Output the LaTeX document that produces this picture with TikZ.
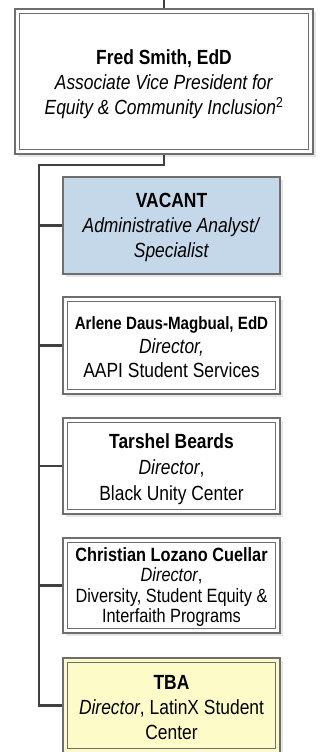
\documentclass[tikz,border=0pt]{standalone}
\usepackage{fontspec}
\setmainfont{Liberation Sans}[FakeStretch=0.85]
\usetikzlibrary{shadows}
\definecolor{linec}{HTML}{404040}
\definecolor{boxline}{HTML}{6E6E6E}
\definecolor{vacfill}{HTML}{C5D8E9}
\definecolor{tbafill}{HTML}{FDFBC8}
\definecolor{shad}{HTML}{E6E6E6}
\tikzset{
  box/.style={draw=boxline, line width=1.2pt, fill=white, inner sep=0pt,
    drop shadow={shadow xshift=3pt, shadow yshift=-3pt, fill=shad, opacity=1}},
  txt/.style={align=center, inner sep=0pt, font=\fontsize{20.5}{25}\selectfont},
  conn/.style={draw=linec, line width=2.6pt},
  innerbox/.style={draw=boxline, line width=1.2pt}
}
\newcommand{\innerframe}[1]{\draw[innerbox] ([xshift=5pt,yshift=-5pt]#1.north west) rectangle ([xshift=-5pt,yshift=5pt]#1.south east);}
\begin{document}
\begin{tikzpicture}[x=1pt,y=-1pt]
\useasboundingbox (0,0) rectangle (323,752);
\node[box, minimum width=298pt, minimum height=145pt] (top) at (164,81.5) {};
\innerframe{top}
\node[txt] (topt) at ([yshift=-3pt]top.center)
  {\textbf{Fred Smith, EdD}\\ \textit{Associate Vice President for}\\ \textit{Equity \& Community Inclusion}\textsuperscript{2}};
\node[box, fill=vacfill, minimum width=217pt, minimum height=97pt] (vac) at (171.5,225.5) {};
\node[txt] (vact) at ([yshift=-2pt]vac.center)
  {\textbf{VACANT}\\ \textit{Administrative Analyst/}\\ \textit{Specialist}};
\node[box, minimum width=217pt, minimum height=97pt] (arl) at (171.5,345.5) {};
\innerframe{arl}
\node[txt, font=\fontsize{20.5}{24}\selectfont] (arlt) at ([yshift=-1.5pt]arl.center)
  {{\fontsize{17.8}{24}\selectfont\textbf{Arlene Daus-Magbual, EdD}}\\ \textit{Director,}\\ AAPI Student Services};
\node[box, minimum width=217pt, minimum height=96pt] (tar) at (171.5,466) {};
\innerframe{tar}
\node[txt, font=\fontsize{20.5}{26}\selectfont] (tart) at ([yshift=-3pt]tar.center)
  {\textbf{Tarshel Beards}\\ \textit{Director},\\ Black Unity Center};
\node[box, minimum width=217pt, minimum height=95pt] (chr) at (171.5,585.5) {};
\innerframe{chr}
\node[txt, font=\fontsize{19.2}{20.5}\selectfont] (chrt) at ([yshift=-1.5pt]chr.center)
  {\textbf{Christian Lozano Cuellar}\\ \textit{Director},\\ Diversity, Student Equity \&\\ Interfaith Programs};
\node[box, fill=tbafill, minimum width=217pt, minimum height=95pt] (tba) at (171.5,705.5) {};
\innerframe{tba}
\node[txt] (tbat) at ([yshift=-2pt]tba.center)
  {\textbf{TBA}\\ \textit{Director}, LatinX Student\\ Center};
\coordinate (in) at (164,0);
\coordinate (s) at (39,165);
\draw[conn] (in) -- (top.north);
\draw[conn] (top.south) |- (s) -- (s |- tba.west) -- (tba.west);
\draw[conn] (s |- vac.west) -- (vac.west);
\draw[conn] (s |- arl.west) -- (arl.west);
\draw[conn] (s |- tar.west) -- (tar.west);
\draw[conn] (s |- chr.west) -- (chr.west);
\end{tikzpicture}
\end{document}
